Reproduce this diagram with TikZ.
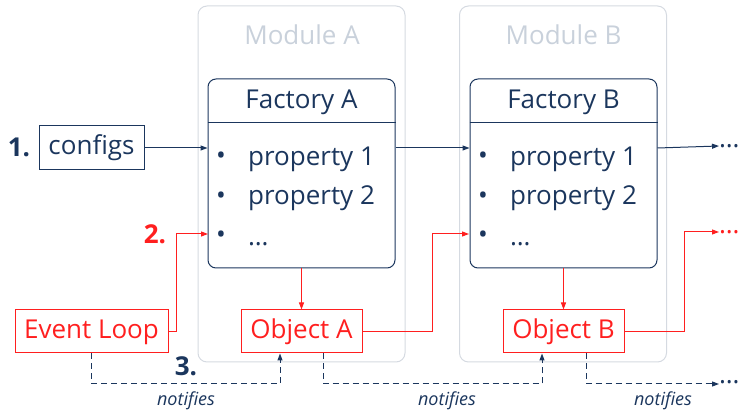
\documentclass[tikz,border=0pt]{standalone}
\usepackage{fontspec}
\setmainfont{Open Sans}
\usetikzlibrary{arrows.meta}
\definecolor{navy}{HTML}{1B365D}
\definecolor{modgray}{HTML}{D5DAE1}
\definecolor{modtext}{HTML}{C9D1DB}
\definecolor{myred}{HTML}{FF1F1F}
\begin{document}
\begin{tikzpicture}[x=1pt,y=-1pt,
  font=\fontsize{26}{31}\selectfont,
  modbox/.style={draw=modgray, line width=1pt, rounded corners=9pt, minimum width=207pt, minimum height=356pt, inner sep=0pt},
  modtitle/.style={text=modtext, inner sep=0pt, anchor=base},
  facbox/.style={draw=navy, line width=1pt, rounded corners=8pt, minimum width=187pt, minimum height=189pt, inner sep=0pt},
  factitle/.style={text=navy, inner sep=0pt, anchor=base},
  bul/.style={text=navy, inner sep=0pt, anchor=base},
  prop/.style={text=navy, inner sep=0pt, anchor=base west},
  navybox/.style={draw=navy, line width=1pt, text=navy, inner sep=0pt, text height=21pt, text depth=7pt},
  redbox/.style={draw=myred, line width=1pt, text=myred, inner sep=0pt, minimum height=43pt, text height=21pt, text depth=7pt},
  num/.style={font=\fontsize{26}{31}\selectfont\bfseries, inner sep=0pt, anchor=base},
  nl/.style={draw=navy, line width=1pt, -{Triangle[length=7pt,width=5pt]}},
  rl/.style={draw=myred, line width=1pt, -{Triangle[length=7pt,width=5pt]}},
  dl/.style={draw=navy, line width=1pt, dash pattern=on 6pt off 4pt, -{Triangle[length=7pt,width=5pt]}},
  lbl/.style={text=navy, font=\fontsize{18}{21}\selectfont\itshape, inner sep=0pt, anchor=base},
]
\useasboundingbox (0,0) rectangle (739,411);

% modules
\node[modbox] (modA) at (301.5,184) {};
\node[modbox] (modB) at (563,184) {};
\node[modtitle] (titA) at (302,45) {Module A};
\node[modtitle] (titB) at (563.5,45) {Module B};

% factories
\node[facbox] (facA) at (301.5,173.5) {};
\node[facbox] (facB) at (563.5,173.5) {};
\draw[navy, line width=1pt] (facA.west |- 0,123) -- (facA.east |- 0,123);
\draw[navy, line width=1pt] (facB.west |- 0,123) -- (facB.east |- 0,123);
\node[factitle] (ftA) at (301.5,109) {Factory A};
\node[factitle] (ftB) at (563.5,109) {Factory B};

% properties A
\node[bul] (bA1) at (221,165) {•};
\node[bul] (bA2) at (221,205) {•};
\node[bul] (bA3) at (221,244) {•};
\node[prop] (pA1) at (248,166) {property 1};
\node[prop] (pA2) at (248,205) {property 2};
\node[prop] (pA3) at (248,246) {…};
% properties B
\node[bul] (bB1) at (483,165) {•};
\node[bul] (bB2) at (483,205) {•};
\node[bul] (bB3) at (483,244) {•};
\node[prop] (pB1) at (510,166) {property 1};
\node[prop] (pB2) at (510,205) {property 2};
\node[prop] (pB3) at (510,246) {…};

% configs row
\node[num, text=navy] (n1) at (19,157) {1.};
\node[navybox, minimum width=105pt, minimum height=44pt] (configs) at (91.5,148) {configs};
\node[text=navy, inner sep=0pt, anchor=west] (dots1) at (719,146) {…};
\draw[nl] (configs.east) -- (configs.east -| facA.west);
\draw[nl] (configs.east -| facA.east) -- (configs.east -| facB.west);
\draw[nl] (configs.east -| facB.east) -- (dots1.west);

% red objects
\node[num, text=myred] (n2) at (155,244) {2.};
\node[redbox, minimum width=153pt] (ev) at (91.5,331.5) {Event Loop};
\node[redbox, minimum width=121pt] (objA) at (301.5,331.5) {Object A};
\node[redbox, minimum width=121pt] (objB) at (563.5,331.5) {Object B};
\node[text=myred, inner sep=0pt, anchor=west] (dots2) at (719,232) {…};
\coordinate (inA) at (208,234);
\coordinate (inB) at (469,234);
\draw[rl] (ev.east) -- (176,331.5) |- (inA);
\draw[rl] (objA.east) -- (432,331.5) |- (inB);
\draw[rl] (objB.east) -- (684,331.5) |- (dots2.west);
\draw[rl] (facA.south) -- (objA.north);
\draw[rl] (facB.south) -- (objB.north);

% notifies
\node[num, text=navy] (n3) at (186,376) {3.};
\node[text=navy, inner sep=0pt, anchor=west] (dots3) at (719,382) {…};
\draw[dl] (ev.south) -- (91.5,384) -| ([xshift=-21.5pt]objA.south);
\draw[dl] ([xshift=21.5pt]objA.south) -- (323,384) -| ([xshift=-21.5pt]objB.south);
\draw[dl] ([xshift=22.5pt]objB.south) -- (586,384) -- (dots3.west |- 0,384);
\node[lbl] (l1) at (186,406) {notifies};
\node[lbl] (l2) at (447,406) {notifies};
\node[lbl] (l3) at (663,406) {notifies};
\end{tikzpicture}
\end{document}
